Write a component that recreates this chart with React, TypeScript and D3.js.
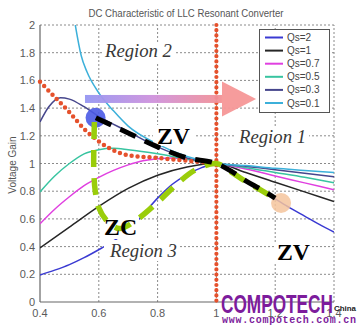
import React from "react";
import * as d3 from "d3";

const chartTitle = "DC Characteristic of LLC Resonant Converter";
const yAxisLabel = "Voltage Gain";
const xTicks = [0.4, 0.6, 0.8, 1, 1.2, 1.4];
const yTicks = [0, 0.2, 0.4, 0.6, 0.8, 1, 1.2, 1.4, 1.6, 1.8, 2];

type P = [number, number];

const qs2: P[] = [[0.4, 0.195], [0.45, 0.23], [0.5, 0.27], [0.55, 0.32], [0.61, 0.39], [0.65, 0.44], [0.69, 0.5], [0.72, 0.56], [0.75, 0.63], [0.8, 0.75], [0.85, 0.85], [0.9, 0.92], [0.95, 0.97], [1.0, 1.0], [1.05, 0.94], [1.1, 0.87], [1.15, 0.81], [1.2, 0.745], [1.25, 0.68], [1.3, 0.62], [1.35, 0.56], [1.4, 0.505]];
const qs1: P[] = [[0.4, 0.39], [0.5, 0.54], [0.6, 0.69], [0.7, 0.82], [0.8, 0.915], [0.9, 0.975], [1.0, 1.0], [1.1, 0.935], [1.2, 0.865], [1.3, 0.795], [1.4, 0.725]];
const qs07: P[] = [[0.4, 0.565], [0.45, 0.67], [0.5, 0.76], [0.55, 0.84], [0.6, 0.9], [0.65, 0.95], [0.7, 0.99], [0.75, 1.02], [0.8, 1.035], [0.85, 1.04], [0.9, 1.03], [0.95, 1.015], [1.0, 1.0], [1.1, 0.96], [1.2, 0.91], [1.3, 0.86], [1.4, 0.81]];
const qs05: P[] = [[0.4, 0.795], [0.45, 0.91], [0.5, 1.0], [0.55, 1.07], [0.6, 1.1], [0.65, 1.11], [0.7, 1.1], [0.8, 1.07], [0.9, 1.03], [1.0, 1.0], [1.1, 0.97], [1.2, 0.935], [1.3, 0.9], [1.4, 0.86]];
const qs03: P[] = [[0.4, 1.3], [0.43, 1.41], [0.47, 1.475], [0.5, 1.465], [0.55, 1.41], [0.6, 1.34], [0.7, 1.23], [0.8, 1.12], [0.9, 1.04], [1.0, 1.0], [1.1, 0.98], [1.2, 0.955], [1.3, 0.93], [1.4, 0.905]];
const qs01: P[] = [[0.52, 2.0], [0.54, 1.78], [0.56, 1.66], [0.6, 1.51], [0.65, 1.38], [0.7, 1.27], [0.8, 1.14], [0.9, 1.05], [1.0, 1.0], [1.1, 0.985], [1.2, 0.965], [1.3, 0.95], [1.4, 0.935]];

const seriesNames = ["Qs=2", "Qs=1", "Qs=0.7", "Qs=0.5", "Qs=0.3", "Qs=0.1"];
const seriesData = [qs2, qs1, qs07, qs05, qs03, qs01];
const seriesColors = ["#3a3ad2", "#262626", "#e040e0", "#38c4a0", "#46468c", "#3cb0da"];

const regionBoundary: P[] = [[0.4, 1.59], [0.45, 1.48], [0.5, 1.37], [0.55, 1.25], [0.6, 1.16], [0.65, 1.095], [0.7, 1.06], [0.8, 1.04], [0.9, 1.02], [1.0, 1.0]];
const resonanceLine: P[] = [[1.0, 2.0], [1.0, 0.0]];
const zcBoundary: P[] = [[0.585, 1.3], [0.583, 1.1], [0.583, 0.95], [0.588, 0.8], [0.6, 0.68], [0.63, 0.58], [0.67, 0.53], [0.72, 0.58], [0.8, 0.72], [0.87, 0.86], [0.93, 0.955], [1.0, 1.0], [1.05, 0.94], [1.1, 0.87], [1.15, 0.81], [1.2, 0.745]];
const zvBoundary: P[] = [[0.59, 1.33], [0.6, 1.32], [0.7, 1.22], [0.8, 1.12], [0.9, 1.04], [1.0, 1.0], [1.05, 0.945], [1.1, 0.875], [1.15, 0.815], [1.2, 0.75]];
const startPoint: P = [0.589, 1.33];
const endPoint: P = [1.22, 0.715];
const arrowSpan = { from: 0.553, headBase: 1.019, tip: 1.135, level: 1.466, halfHead: 0.126 };

const labels = [
  { text: "Region 2", at: [0.621, 1.767] as P, kind: "region" },
  { text: "Region 1", at: [1.077, 1.15] as P, kind: "region" },
  { text: "Region 3", at: [0.638, 0.327] as P, kind: "region" },
  { text: "ZV", at: [0.798, 1.141] as P, kind: "zone" },
  { text: "ZV", at: [1.206, 0.3] as P, kind: "zone" },
  { text: "ZC", at: [0.618, 0.484] as P, kind: "zone" },
];

const W = 361;
const H = 331;

export default function App() {
  const x = d3.scaleLinear().domain([0.4, 1.4]).range([40, 334]);
  const y = d3.scaleLinear().domain([0, 2]).range([302, 25]);
  const line = d3.line<P>().x((d) => x(d[0])).y((d) => y(d[1])).curve(d3.curveMonotoneX);
  const freeLine = d3.line<P>().x((d) => x(d[0])).y((d) => y(d[1])).curve(d3.curveCatmullRom.alpha(0.5));
  const straight = d3.line<P>().x((d) => x(d[0])).y((d) => y(d[1]));
  const sans = "'Liberation Sans', Arial, sans-serif";
  const serif = "'Liberation Serif', 'Times New Roman', serif";

  const ay = y(arrowSpan.level);
  const headH = y(arrowSpan.level - arrowSpan.halfHead) - ay;

  return (
    <svg width={W} height={H} style={{ position: "absolute", left: 0, top: 0, background: "#fff" }} xmlns="http://www.w3.org/2000/svg">
      <defs>
        <clipPath id="plot">
          <rect x={x(0.4)} y={y(2)} width={x(1.4) - x(0.4)} height={y(0) - y(2)} />
        </clipPath>
        <linearGradient id="arrowGrad" x1="0" x2="1" y1="0" y2="0">
          <stop offset="0" stopColor="#9596f2" />
          <stop offset="0.5" stopColor="#cf92dc" />
          <stop offset="1" stopColor="#f39194" />
        </linearGradient>
      </defs>
      <rect x={0} y={0} width={W} height={H} fill="#fff" />
      <text x={186} y={16.5} textAnchor="middle" fontFamily={sans} fontSize={10} fill="#555" textLength={195} lengthAdjust="spacingAndGlyphs">{chartTitle}</text>
      {/* grid */}
      {xTicks.filter((t) => t !== 0.4).map((t) => (
        <line key={"gx" + t} x1={x(t)} x2={x(t)} y1={y(0)} y2={y(2)} stroke="#8a8a8a" strokeWidth={1} strokeDasharray="2 2" />
      ))}
      {yTicks.filter((t) => t !== 0).map((t) => (
        <line key={"gy" + t} x1={x(0.4)} x2={x(1.4)} y1={y(t)} y2={y(t)} stroke="#8a8a8a" strokeWidth={1} strokeDasharray="2 2" />
      ))}
      <line x1={x(0.4)} x2={x(0.4)} y1={y(0)} y2={y(2)} stroke="#666" strokeWidth={1.2} />
      <line x1={x(0.4)} x2={x(1.4)} y1={y(0)} y2={y(0)} stroke="#666" strokeWidth={1.2} />
      {yTicks.map((t) => (
        <text key={"ty" + t} x={35} y={y(t) + 4} textAnchor="end" fontFamily={sans} fontSize={11} fill="#5a5a5a">{d3.format("~g")(t)}</text>
      ))}
      {xTicks.map((t) => (
        <text key={"tx" + t} x={x(t)} y={316.5} textAnchor="middle" fontFamily={sans} fontSize={11} fill="#5a5a5a">{d3.format("~g")(t)}</text>
      ))}
      <text transform={`translate(16,165) rotate(-90)`} textAnchor="middle" fontFamily={sans} fontSize={10} fill="#555">{yAxisLabel}</text>

      <g clipPath="url(#plot)">
        {seriesData.map((s, i) => (
          <path key={"s" + i} d={line(s) || ""} fill="none" stroke={seriesColors[i]} strokeWidth={1.5} />
        ))}
      </g>

      {/* label backgrounds */}
      <rect x={102} y={42} width={74} height={20} fill="#fff" />
      <rect x={236} y={127} width={73} height={20} fill="#fff" />
      <rect x={104} y={240} width={74} height={21} fill="#fff" />
      <rect x={153} y={125} width={41} height={21} fill="#fff" />
      <rect x={274} y={243} width={37} height={20} fill="#fff" />
      <rect x={101} y={217} width={38} height={22} fill="#fff" />

      <path d={line(regionBoundary) || ""} fill="none" stroke="#e5512c" strokeWidth={4.5} strokeDasharray="0 6" strokeLinecap="round" />
      <path d={straight(resonanceLine) || ""} fill="none" stroke="#e5512c" strokeWidth={4.2} strokeDasharray="0 5.2" strokeLinecap="round" />

      <circle cx={x(startPoint[0])} cy={y(startPoint[1])} r={10} fill="#4a5ae6" fillOpacity={0.9} />
      <circle cx={x(endPoint[0])} cy={y(endPoint[1])} r={10} fill="#f5c49c" fillOpacity={0.85} />

      <path d={freeLine(zcBoundary) || ""} fill="none" stroke="#9acd0a" strokeWidth={5.5} strokeDasharray="17 11" />
      <path d={line(zvBoundary) || ""} fill="none" stroke="#000" strokeWidth={5} strokeDasharray="17 10" />

      {/* arrow */}
      <rect x={x(arrowSpan.from)} y={ay - 4} width={x(arrowSpan.headBase) - x(arrowSpan.from)} height={8} fill="url(#arrowGrad)" fillOpacity={0.95} />
      <path d={`M${x(arrowSpan.headBase)},${ay - headH} L${x(arrowSpan.tip)},${ay} L${x(arrowSpan.headBase)},${ay + headH} Z`} fill="#f59797" fillOpacity={0.95} />

      {labels.map((l, i) =>
        l.kind === "region" ? (
          <text key={"l" + i} x={x(l.at[0])} y={y(l.at[1])} fontFamily={serif} fontStyle="italic" fontSize={18} fill="#383838" textLength={67} lengthAdjust="spacingAndGlyphs">{l.text}</text>
        ) : (
          <text key={"l" + i} x={x(l.at[0])} y={y(l.at[1])} fontFamily={serif} fontWeight="bold" fontSize={23} fill="#000" textLength={33} lengthAdjust="spacingAndGlyphs">{l.text}</text>
        )
      )}

      {/* legend */}
      <g>
        <rect x={259.5} y={29.5} width={70} height={83} fill="#fff" stroke="#555" strokeWidth={1} />
        {seriesNames.map((n, i) => (
          <g key={"lg" + i}>
            <line x1={265} x2={283} y1={37.5 + i * 13.1} y2={37.5 + i * 13.1} stroke={seriesColors[i]} strokeWidth={2} />
            <text x={287} y={41 + i * 13.1} fontFamily={sans} fontSize={10} fill="#444">{n}</text>
          </g>
        ))}
      </g>

      {/* watermark */}
      <text x={221} y={313} fontFamily="'Liberation Sans Narrow', 'Liberation Sans', Arial, sans-serif" fontWeight="bold" fontSize={25} fill="#7d1c9c" textLength={112} lengthAdjust="spacingAndGlyphs">COMPOTECH</text>
      <text x={334} y={311} fontFamily={sans} fontWeight="bold" fontSize={8} fill="#222" textLength={22} lengthAdjust="spacingAndGlyphs">China</text>
      <text x={222} y={323} fontFamily="'Liberation Mono', 'DejaVu Sans Mono', monospace" fontWeight="bold" fontSize={10} fill="#7d1c9c" textLength={134} lengthAdjust="spacing">www.compotech.com.cn</text>
    </svg>
  );
}
